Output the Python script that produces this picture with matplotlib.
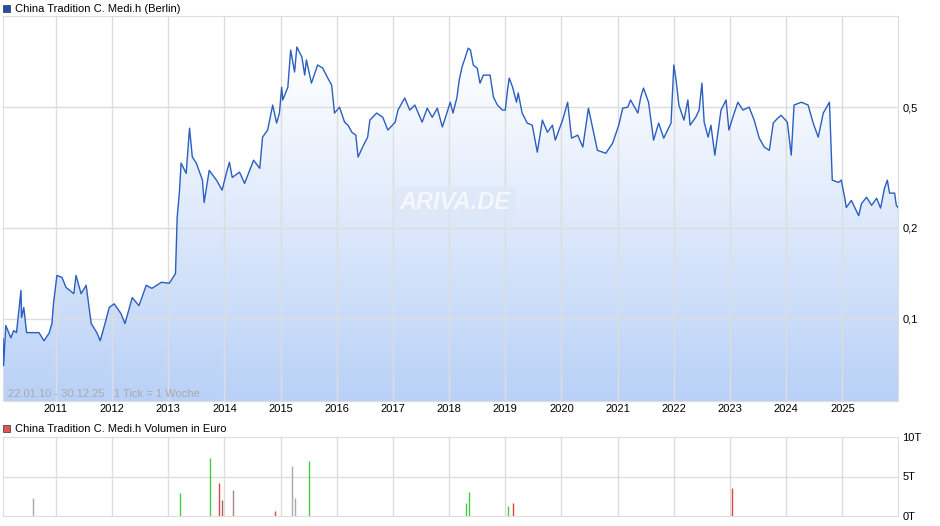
import numpy as np
import matplotlib
matplotlib.use("Agg")
import matplotlib.pyplot as plt
from matplotlib.patches import Rectangle
from matplotlib.colors import LinearSegmentedColormap

plt.rcParams['font.family'] = ['Liberation Sans', 'DejaVu Sans']

dates = [2010.06,2010.07,2010.11,2010.20,2010.25,2010.30,2010.38,2010.39,2010.43,2010.48,2010.70,2010.79,2010.88,2010.93,2010.96,
 2011.02,2011.11,2011.18,2011.32,2011.36,2011.45,2011.54,2011.63,2011.73,2011.79,2011.89,2011.95,2012.04,2012.16,2012.23,2012.36,
 2012.48,2012.61,2012.71,2012.88,2013.02,2013.13,2013.16,2013.20,2013.23,2013.32,2013.38,2013.43,2013.50,2013.61,2013.64,2013.73,
 2013.86,2013.96,2014.04,2014.09,2014.14,2014.27,2014.36,2014.45,2014.52,2014.63,2014.68,2014.77,2014.86,2014.93,2014.98,2015.02,
 2015.04,2015.13,2015.18,2015.25,2015.29,2015.38,2015.43,2015.46,2015.55,2015.66,2015.75,2015.84,2015.91,2015.96,2016.05,2016.14,
 2016.20,2016.27,2016.34,2016.38,2016.46,2016.55,2016.59,2016.71,2016.82,2016.91,2017.04,2017.09,2017.21,2017.30,2017.39,2017.52,
 2017.61,2017.70,2017.79,2017.88,2017.96,2018.02,2018.07,2018.14,2018.18,2018.23,2018.29,2018.34,2018.38,2018.43,2018.50,2018.55,
 2018.61,2018.73,2018.79,2018.86,2018.95,2019.00,2019.04,2019.07,2019.13,2019.20,2019.23,2019.30,2019.39,2019.48,2019.57,2019.66,
 2019.75,2019.84,2019.89,2020.02,2020.11,2020.18,2020.29,2020.38,2020.48,2020.59,2020.64,2020.79,2020.91,2021.02,2021.09,2021.18,
 2021.23,2021.36,2021.41,2021.46,2021.55,2021.64,2021.73,2021.82,2021.95,2022.00,2022.04,2022.09,2022.18,2022.25,2022.29,2022.39,
 2022.45,2022.50,2022.54,2022.61,2022.66,2022.73,2022.84,2022.93,2022.98,2023.05,2023.14,2023.23,2023.34,2023.43,2023.52,2023.61,
 2023.70,2023.77,2023.84,2023.91,2024.02,2024.09,2024.14,2024.27,2024.39,2024.48,2024.57,2024.66,2024.77,2024.82,2024.93,2024.98,
 2025.04,2025.07,2025.16,2025.29,2025.34,2025.43,2025.52,2025.61,2025.68,2025.75,2025.80,2025.84,2025.93,2025.96,2025.99]
prices = [0.0859,0.070,0.095,0.0865,0.0914,0.090,0.124,0.101,0.109,0.090,0.090,0.0846,0.0896,0.0964,0.113,
 0.139,0.137,0.127,0.121,0.139,0.121,0.129,0.0964,0.090,0.0846,0.0986,0.109,0.112,0.104,0.0964,0.1174,
 0.1105,0.129,0.126,0.132,0.131,0.141,0.216,0.262,0.327,0.302,0.426,0.342,0.327,0.287,0.242,0.309,
 0.287,0.266,0.305,0.329,0.293,0.305,0.280,0.309,0.334,0.314,0.398,0.420,0.508,0.443,0.478,0.582,
 0.528,0.582,0.772,0.653,0.790,0.732,0.638,0.716,0.600,0.689,0.673,0.624,0.591,0.478,0.500,0.446,
 0.436,0.413,0.404,0.342,0.369,0.398,0.453,0.478,0.463,0.420,0.446,0.489,0.536,0.489,0.508,0.446,
 0.496,0.463,0.496,0.430,0.478,0.519,0.478,0.539,0.614,0.678,0.732,0.783,0.772,0.689,0.673,0.600,
 0.638,0.638,0.539,0.508,0.489,0.489,0.569,0.624,0.582,0.519,0.557,0.478,0.443,0.436,0.355,0.453,
 0.413,0.436,0.389,0.453,0.519,0.395,0.404,0.369,0.496,0.398,0.360,0.352,0.380,0.436,0.496,0.500,
 0.528,0.478,0.539,0.578,0.519,0.389,0.443,0.395,0.443,0.689,0.614,0.508,0.453,0.528,0.436,0.463,
 0.489,0.600,0.446,0.398,0.436,0.347,0.489,0.528,0.420,0.463,0.519,0.489,0.500,0.453,0.395,0.369,
 0.360,0.443,0.458,0.470,0.446,0.347,0.508,0.519,0.508,0.443,0.398,0.478,0.519,0.287,0.282,0.287,
 0.252,0.233,0.246,0.219,0.240,0.252,0.237,0.250,0.232,0.270,0.287,0.260,0.260,0.237,0.233]

vol_dates = [2010.59,2013.21,2013.75,2013.91,2013.96,2014.16,2014.91,2015.21,2015.25,2015.50,2018.30,2018.36,2019.05,2019.14,2023.04]
vol_vals = [2.3,2.9,7.4,4.2,2.0,3.3,0.6,6.3,2.3,6.9,1.7,3.0,1.3,1.7,3.6]
vol_cols = ['#aaaaaa','#44cc44','#44cc44','#dd4444','#aa6666','#aa8888','#dd4444','#aaaaaa','#aaaaaa','#44cc44','#44cc44','#44cc44','#44cc44','#dd4444','#dd4444']

years = list(range(2011, 2026))
ptick = [0.1, 0.2, 0.5]
ptick_lbl = ['0,1', '0,2', '0,5']

fig = plt.figure(figsize=(9.4, 5.26), dpi=100)
grid_c = '#dddddd'
ax = fig.add_axes([3/940, 1-401/526, 895/940, 385/526])
ax.set_yscale('log')
x0, x1 = 2010.06, 2025.99
ax.set_xlim(x0, x1)
ax.set_ylim(0.0535, 1.0)
grad = np.linspace(0, 1, 256).reshape(-1, 1)
cm = LinearSegmentedColormap.from_list('g', ['#b9d1f7', '#ffffff'])
im = ax.imshow(grad, cmap=cm, aspect='auto', extent=[0, 1, 0, 0.9], origin='lower',
               transform=ax.transAxes, zorder=1)
poly = ax.fill_between(dates, prices, 0.0535, color='none', zorder=1)
im.set_clip_path(poly.get_paths()[0], transform=ax.transData)
ax.plot(dates, prices, color='#2a5fc0', lw=1.0, zorder=3)
for y in years:
    ax.axvline(y, color=grid_c, lw=1, zorder=2)
for p in ptick:
    ax.axhline(p, color=grid_c, lw=1, zorder=2)
ax.yaxis.tick_right()
ax.set_yticks(ptick)
ax.set_yticklabels(ptick_lbl)
ax.yaxis.set_minor_locator(matplotlib.ticker.NullLocator())
ax.set_xticks(years)
ax.set_xticklabels([str(y) for y in years])
ax.tick_params(length=0, labelsize=8, pad=3)
ax.tick_params(axis='x', pad=2)
for s in ax.spines.values():
    s.set_color(grid_c)
ax.text(0.006, 0.005, '22.01.10 - 30.12.25   1 Tick = 1 Woche', transform=ax.transAxes,
        fontsize=8, color='#aaaaaa', va='bottom', zorder=4)
ax.text(0.505, 0.515, 'ARIVA.DE', transform=ax.transAxes, fontsize=17, color='#f4f7fc',
        fontstyle='italic', fontweight='bold', ha='center', va='center', zorder=2,
        bbox=dict(boxstyle='round,pad=0.2', fc='#dde6f6', ec='none', alpha=0.6))

fig.patches.append(Rectangle((3/940, 1-12/526), 7/940, 7/526, transform=fig.transFigure,
                             fc='#1f4fb0', ec='#333333', lw=0.5))
fig.text(15/940, 1-8.5/526, 'China Tradition C. Medi.h (Berlin)', fontsize=8, va='center')
fig.patches.append(Rectangle((3/940, 1-432/526), 7/940, 7/526, transform=fig.transFigure,
                             fc='#dd5555', ec='#333333', lw=0.5))
fig.text(15/940, 1-428.5/526, 'China Tradition C. Medi.h Volumen in Euro', fontsize=8, va='center')

av = fig.add_axes([3/940, 10/526, 895/940, 79/526])
av.set_xlim(x0, x1)
av.set_ylim(0, 10)
for y in years:
    av.axvline(y, color=grid_c, lw=1, zorder=1)
av.axhline(5, color=grid_c, lw=1, zorder=1)
av.vlines(vol_dates, 0, vol_vals, colors=vol_cols, lw=1, zorder=2)
av.yaxis.tick_right()
av.set_yticks([0, 5, 10])
av.set_yticklabels(['0T', '5T', '10T'])
av.set_xticks([])
av.tick_params(length=0, labelsize=8, pad=3)
for s in av.spines.values():
    s.set_color(grid_c)

fig.savefig('out.png', dpi=100)
